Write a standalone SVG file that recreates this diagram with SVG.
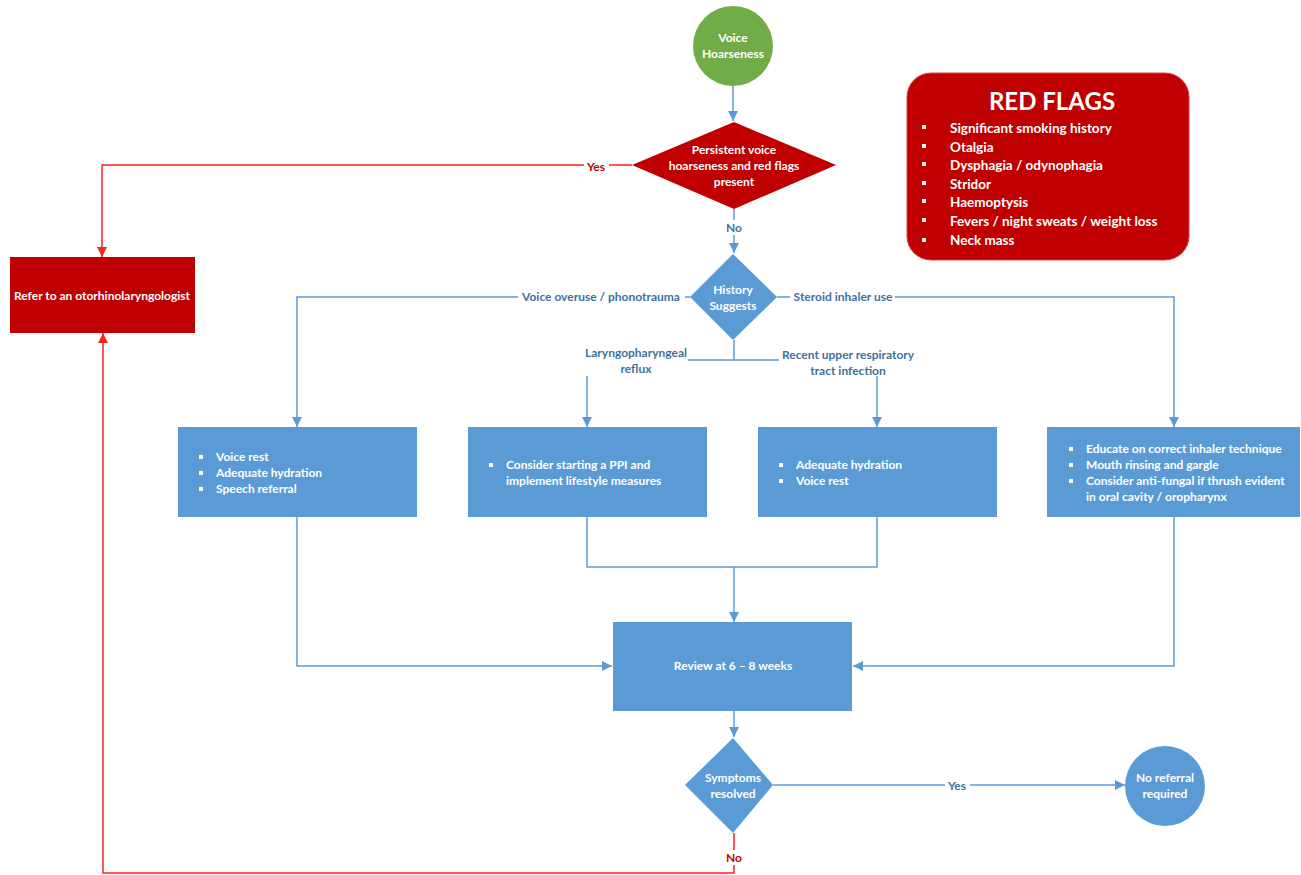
<svg xmlns="http://www.w3.org/2000/svg" width="1301" height="875" viewBox="0 0 1301 875">
<defs>
<marker id="ab" viewBox="0 0 10 10" refX="10" refY="5" markerWidth="10" markerHeight="10" markerUnits="userSpaceOnUse" orient="auto"><path d="M0,0 L10,5 L0,10 z" fill="#5b9bd5"/></marker>
<marker id="ar" viewBox="0 0 10 10" refX="10" refY="5" markerWidth="10" markerHeight="10" markerUnits="userSpaceOnUse" orient="auto"><path d="M0,0 L10,5 L0,10 z" fill="#ff2020"/></marker>
</defs>
<style>
text{font-family:Lato,"Open Sans","Liberation Sans",sans-serif;font-weight:bold;}
.w{fill:#ffffff;font-size:12px;}
.wc{fill:#ffffff;font-size:12px;text-anchor:middle;}
.lb{fill:#41719c;font-size:12px;}
.lr{fill:#c00000;font-size:12px;}
.bl{fill:none;stroke:#5b9bd5;stroke-width:1.5;}
.rl{fill:none;stroke:#ff2020;stroke-width:1.5;}
.blue{fill:#5b9bd5;}
.red{fill:#c00000;}
.bul{fill:#ffffff;}
.rf{fill:#ffffff;font-size:13.5px;}
</style>
<rect width="1301" height="875" fill="#ffffff"/>
<g id="connectors">
<path class="bl" d="M733,86 V121" marker-end="url(#ab)"/>
<path class="bl" d="M734,209 V253" marker-end="url(#ab)"/>
<path class="bl" d="M690,297 H297 V427" marker-end="url(#ab)"/>
<path class="bl" d="M777,297 H1174 V427" marker-end="url(#ab)"/>
<path class="bl" d="M734,340 V360 M688,360 H779"/>
<path class="bl" d="M587,376 V427" marker-end="url(#ab)"/>
<path class="bl" d="M877,376 V427" marker-end="url(#ab)"/>
<path class="bl" d="M297,517 V666 H612" marker-end="url(#ab)"/>
<path class="bl" d="M587,517 V567 H877 V517"/>
<path class="bl" d="M734,567 V622" marker-end="url(#ab)"/>
<path class="bl" d="M1174,517 V666 H853" marker-end="url(#ab)"/>
<path class="bl" d="M734,711 V737" marker-end="url(#ab)"/>
<path class="bl" d="M773,785 H1125" marker-end="url(#ab)"/>
<path class="rl" d="M632,165 H102 V257" marker-end="url(#ar)"/>
<path class="rl" d="M734,833 V873 H103 V333" marker-end="url(#ar)"/>
<rect x="584" y="159" width="25" height="15" fill="#ffffff"/>
<text class="lr" x="596" y="171" text-anchor="middle">Yes</text>
<rect x="723" y="220" width="22" height="15" fill="#ffffff"/>
<text class="lb" x="734" y="232" text-anchor="middle">No</text>
<rect x="518" y="290" width="167" height="15" fill="#ffffff"/>
<text class="lb" x="601" y="301" text-anchor="middle">Voice overuse / phonotrauma</text>
<rect x="790" y="290" width="105" height="15" fill="#ffffff"/>
<text class="lb" x="843" y="301" text-anchor="middle">Steroid inhaler use</text>
<text class="lb" x="636" y="357" text-anchor="middle">Laryngopharyngeal</text>
<text class="lb" x="636" y="373" text-anchor="middle">reflux</text>
<text class="lb" x="848" y="359" text-anchor="middle">Recent upper respiratory</text>
<text class="lb" x="848" y="375" text-anchor="middle">tract infection</text>
<rect x="945" y="778" width="25" height="15" fill="#ffffff"/>
<text class="lb" x="957" y="790" text-anchor="middle">Yes</text>
<rect x="723" y="850" width="22" height="15" fill="#ffffff"/>
<text class="lr" x="734" y="862" text-anchor="middle">No</text>
</g>
<g id="start">
<circle cx="733" cy="46" r="40" fill="#70ad47"/>
<text class="wc" x="733" y="42">Voice</text>
<text class="wc" x="733" y="58">Hoarseness</text>
</g>
<g id="redflag-decision">
<polygon points="734,122 836,165 734,209 632,165" class="red"/>
<text class="wc" x="734" y="154">Persistent voice</text>
<text class="wc" x="734" y="170">hoarseness and red flags</text>
<text class="wc" x="734" y="186">present</text>
</g>
<g id="red-flags">
<rect x="907" y="73" width="282" height="187" rx="24" ry="24" fill="#c00000" stroke="#e04040" stroke-width="1"/>
<text x="1052" y="110" fill="#ffffff" font-size="24" text-anchor="middle">RED FLAGS</text>
<rect class="bul" x="922" y="125" width="4" height="4"/><text class="rf" x="950" y="133">Significant smoking history</text>
<rect class="bul" x="922" y="144" width="4" height="4"/><text class="rf" x="950" y="152">Otalgia</text>
<rect class="bul" x="922" y="162" width="4" height="4"/><text class="rf" x="950" y="170">Dysphagia / odynophagia</text>
<rect class="bul" x="922" y="181" width="4" height="4"/><text class="rf" x="950" y="189">Stridor</text>
<rect class="bul" x="922" y="199" width="4" height="4"/><text class="rf" x="950" y="207">Haemoptysis</text>
<rect class="bul" x="922" y="218" width="4" height="4"/><text class="rf" x="950" y="226">Fevers / night sweats / weight loss</text>
<rect class="bul" x="922" y="238" width="4" height="4"/><text class="rf" x="950" y="245">Neck mass</text>
</g>
<g id="refer">
<rect x="10" y="257" width="185" height="76" class="red"/>
<text class="wc" x="102" y="300" font-size="11">Refer to an otorhinolaryngologist</text>
</g>
<g id="history">
<polygon points="733,254 777,297 733,340 690,297" class="blue"/>
<text class="wc" x="733" y="294">History</text>
<text class="wc" x="733" y="310">Suggests</text>
</g>
<g id="box-voice">
<rect x="178" y="427" width="239" height="90" class="blue"/>
<rect class="bul" x="199" y="455" width="4" height="4"/><text class="w" x="216" y="461">Voice rest</text>
<rect class="bul" x="199" y="471" width="4" height="4"/><text class="w" x="216" y="477">Adequate hydration</text>
<rect class="bul" x="199" y="487" width="4" height="4"/><text class="w" x="216" y="493">Speech referral</text>
</g>
<g id="box-lpr">
<rect x="468" y="427" width="239" height="90" class="blue"/>
<rect class="bul" x="489" y="463" width="4" height="4"/><text class="w" x="506" y="469">Consider starting a PPI and</text>
<text class="w" x="506" y="485">implement lifestyle measures</text>
</g>
<g id="box-urti">
<rect x="758" y="427" width="239" height="90" class="blue"/>
<rect class="bul" x="779" y="463" width="4" height="4"/><text class="w" x="796" y="469">Adequate hydration</text>
<rect class="bul" x="779" y="479" width="4" height="4"/><text class="w" x="796" y="485">Voice rest</text>
</g>
<g id="box-steroid">
<rect x="1047" y="427" width="253" height="90" class="blue"/>
<rect class="bul" x="1069" y="447" width="4" height="4"/><text class="w" x="1086" y="453">Educate on correct inhaler technique</text>
<rect class="bul" x="1069" y="463" width="4" height="4"/><text class="w" x="1086" y="469">Mouth rinsing and gargle</text>
<rect class="bul" x="1069" y="479" width="4" height="4"/><text class="w" x="1086" y="485">Consider anti-fungal if thrush evident</text>
<text class="w" x="1086" y="501">in oral cavity / oropharynx</text>
</g>
<g id="review">
<rect x="613" y="622" width="239" height="89" class="blue"/>
<text class="wc" x="733" y="670">Review at 6 – 8 weeks</text>
</g>
<g id="symptoms">
<polygon points="733,738 773,785 733,833 685,785" class="blue"/>
<text class="wc" x="733" y="782">Symptoms</text>
<text class="wc" x="733" y="798">resolved</text>
</g>
<g id="no-referral">
<circle cx="1165" cy="786" r="40" class="blue"/>
<text class="wc" x="1165" y="782">No referral</text>
<text class="wc" x="1165" y="798">required</text>
</g>
</svg>
